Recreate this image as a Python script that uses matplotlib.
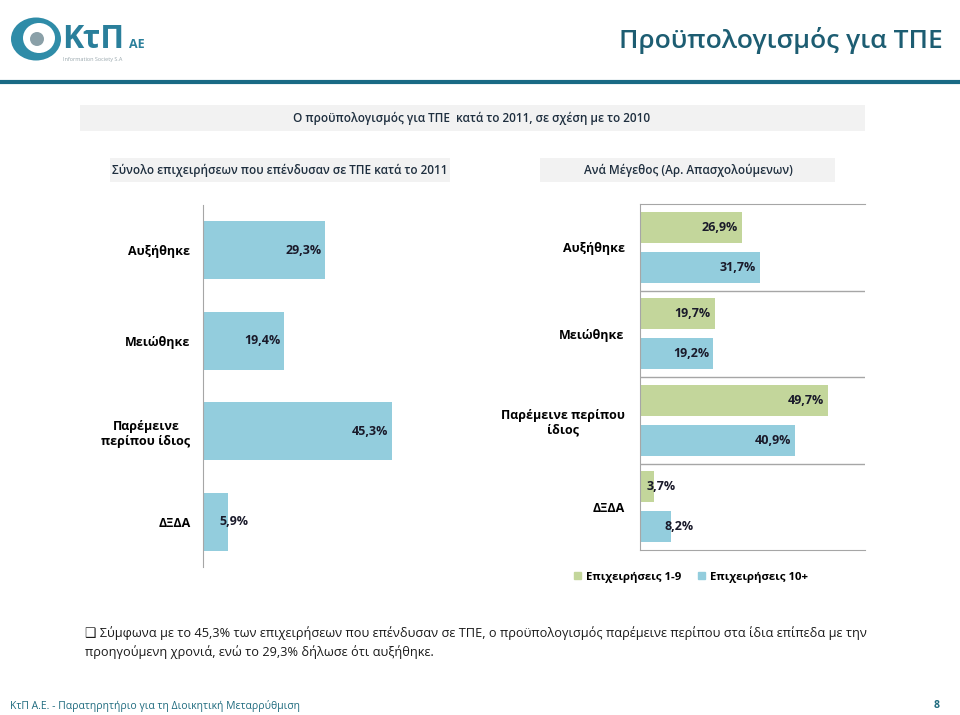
import matplotlib
matplotlib.use('Agg')
import matplotlib.pyplot as plt
from matplotlib.patches import Rectangle, Ellipse, Patch

plt.rcParams['font.family'] = ['Open Sans', 'DejaVu Sans']

# data
total_cats = ['Αυξήθηκε', 'Μειώθηκε', 'Παρέμεινε\nπερίπου ίδιος', 'ΔΞΔΑ']
total_vals = [29.3, 19.4, 45.3, 5.9]

size_cats = ['Αυξήθηκε', 'Μειώθηκε', 'Παρέμεινε περίπου\nίδιος', 'ΔΞΔΑ']
small_vals = [26.9, 19.7, 49.7, 3.7]   # Επιχειρήσεις 1-9
large_vals = [31.7, 19.2, 40.9, 8.2]   # Επιχειρήσεις 10+
series_names = ['Επιχειρήσεις 1-9', 'Επιχειρήσεις 10+']

GREEN = '#c3d69b'
BLUE = '#93cddd'
TEAL = '#1d5d72'
GRID = '#a6a6a6'

W, H = 960, 715
fig = plt.figure(figsize=(W / 100, H / 100), dpi=100)


def fx(x):
    return x / W


def fy(y):
    return 1 - y / H


def box(x0, y0, x1, y1, color):
    fig.patches.append(Rectangle((fx(x0), fy(y1)), (x1 - x0) / W, (y1 - y0) / H,
                                 transform=fig.transFigure, facecolor=color,
                                 edgecolor='none', zorder=0))


def fmt(v):
    return ('%.1f%%' % v).replace('.', ',')


# logo
fig.patches.append(Ellipse((fx(36), fy(39)), 50 / W, 43 / H, transform=fig.transFigure,
                           facecolor='#2f8ca8', edgecolor='none'))
fig.patches.append(Ellipse((fx(39), fy(38)), 32 / W, 30 / H, transform=fig.transFigure,
                           facecolor='white', edgecolor='none'))
fig.patches.append(Ellipse((fx(37), fy(39)), 14 / W, 14 / H, transform=fig.transFigure,
                           facecolor='#8aa0a8', edgecolor='none'))
fig.text(fx(62), fy(40), 'ΚτΠ', fontsize=23, fontweight='bold', color='#2a7f9b',
         va='center', ha='left')
fig.text(fx(129), fy(45), 'ΑΕ', fontsize=9, fontweight='bold', color='#2a7f9b',
         va='center', ha='left')
fig.text(fx(63), fy(59), 'Information Society S.A', fontsize=4, color='#9aa8ae',
         va='center', ha='left')

# title and rule
fig.text(fx(943), fy(40), 'Προϋπολογισμός για ΤΠΕ', fontsize=19, fontweight='semibold',
         color=TEAL, ha='right', va='center')
fig.add_artist(plt.Line2D([0, 1], [fy(82), fy(82)], transform=fig.transFigure,
                          color='#1a6a85', linewidth=3))

# header boxes
box(80, 105, 865, 131, '#f2f2f2')
fig.text(fx(472), fy(118), 'Ο προϋπολογισμός για ΤΠΕ  κατά το 2011, σε σχέση με το 2010',
         fontsize=8.5, fontweight='semibold', color='#1f2f3f', ha='center', va='center')
box(110, 158, 450, 182, '#f2f2f2')
fig.text(fx(280), fy(170), 'Σύνολο επιχειρήσεων που επένδυσαν σε ΤΠΕ κατά το 2011',
         fontsize=8.5, fontweight='semibold', color='#1f2f3f', ha='center', va='center')
box(540, 158, 835, 182, '#f2f2f2')
fig.text(fx(688), fy(170), 'Ανά Μέγεθος (Αρ. Απασχολούμενων)',
         fontsize=8.5, fontweight='semibold', color='#1f2f3f', ha='center', va='center')

# left chart: total
ax1 = fig.add_axes([fx(203), fy(567), 250 / W, 362 / H])
pos = range(len(total_cats))
ax1.barh(pos, total_vals, height=0.64, color=BLUE)
ax1.set_ylim(3.5, -0.5)
ax1.set_xlim(0, 60)
for i, v in enumerate(total_vals):
    if v < 10:
        ax1.text(v + 1.5, i, fmt(v), ha='center', va='center', fontsize=9, fontweight='bold',
                 color='#1a1a2a')
    else:
        ax1.text(v - 0.8, i, fmt(v), ha='right', va='center', fontsize=9, fontweight='bold',
                 color='#1a1a2a')
ax1.set_yticks(list(pos))
ax1.set_yticklabels(total_cats, fontsize=9, fontweight='bold', multialignment='center')
ax1.tick_params(axis='y', length=0, pad=9)
ax1.set_xticks([])
for s in ['top', 'right', 'bottom']:
    ax1.spines[s].set_visible(False)
ax1.spines['left'].set_color(GRID)

# right chart: by size
ax2 = fig.add_axes([fx(640), fy(550), 225 / W, 346 / H])
pos = list(range(len(size_cats)))
off = 0.23
ax2.barh([p - off for p in pos], small_vals, height=0.36, color=GREEN)
ax2.barh([p + off for p in pos], large_vals, height=0.36, color=BLUE)
ax2.set_ylim(3.5, -0.5)
ax2.set_xlim(0, 59.4)
for i in pos:
    for v, y in ((small_vals[i], i - off), (large_vals[i], i + off)):
        if v < 10:
            ax2.text(v + 2, y, fmt(v), ha='center', va='center', fontsize=9,
                     fontweight='bold', color='#1a1a2a')
        else:
            ax2.text(v - 1, y, fmt(v), ha='right', va='center', fontsize=9,
                     fontweight='bold', color='#1a1a2a')
for b in [0.5, 1.5, 2.5]:
    ax2.axhline(b, color=GRID, linewidth=1)
ax2.set_yticks(pos)
ax2.set_yticklabels(size_cats, fontsize=9, fontweight='bold', multialignment='center')
ax2.tick_params(axis='y', length=0, pad=11)
ax2.set_xticks([])
ax2.spines['right'].set_visible(False)
for s in ['top', 'bottom', 'left']:
    ax2.spines[s].set_color(GRID)

handles = [Patch(color=GREEN), Patch(color=BLUE)]
fig.legend(handles, series_names, loc='center', bbox_to_anchor=(fx(691), fy(577)),
           ncol=2, frameon=False, handlelength=0.6, handleheight=0.6,
           handletextpad=0.4, columnspacing=1.5, prop={'size': 8.2, 'weight': 'bold'})

# commentary
fig.text(fx(85), fy(633), '❑ Σύμφωνα με το 45,3% των επιχειρήσεων που επένδυσαν σε ΤΠΕ, '
         'ο προϋπολογισμός παρέμεινε περίπου στα ίδια επίπεδα με την',
         fontsize=9.2, ha='left', va='center', color='#1a1a1a')
fig.text(fx(85), fy(652), 'προηγούμενη χρονιά, ενώ το 29,3% δήλωσε ότι αυξήθηκε.',
         fontsize=9.2, ha='left', va='center', color='#1a1a1a')

# footer
fig.text(fx(10), fy(706), 'ΚτΠ Α.Ε. - Παρατηρητήριο για τη Διοικητική Μεταρρύθμιση',
         fontsize=7.5, color='#1f6b7f', ha='left', va='center')
fig.text(fx(937), fy(706), '8', fontsize=7.5, fontweight='bold', color='#1f6b7f',
         ha='center', va='center')

fig.savefig('out.png', dpi=100)
